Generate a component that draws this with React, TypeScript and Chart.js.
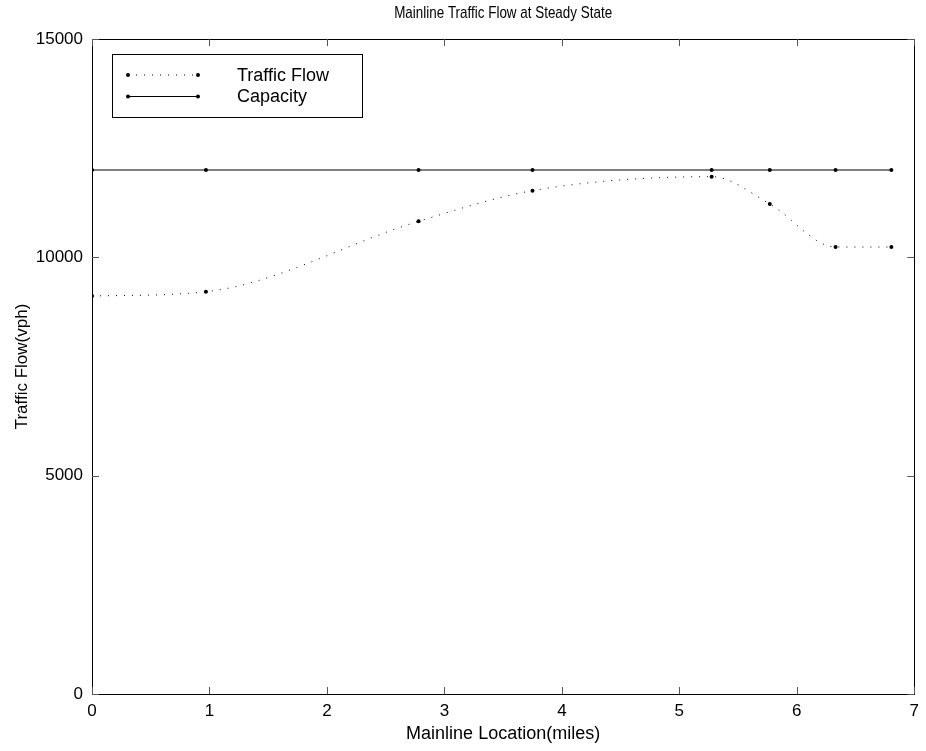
import React, { useEffect, useRef } from "react";
import { Chart, registerables } from "chart.js";

Chart.register(...registerables);

const chartTitle = "Mainline Traffic Flow at Steady State";
const xAxisTitle = "Mainline Location(miles)";
const yAxisTitle = "Traffic Flow(vph)";
const locations = [0, 0.97, 2.78, 3.75, 5.275, 5.77, 6.33, 6.805];
const trafficFlow = [9115, 9213, 10825, 11527, 11847, 11221, 10237, 10237];
const capacity = [12000, 12000, 12000, 12000, 12000, 12000, 12000, 12000];
const xTickValues = [0, 1, 2, 3, 4, 5, 6, 7];
const yTickValues = [0, 5000, 10000, 15000];
const seriesLabels = ["Traffic Flow", "Capacity"];

const FONT = "'Liberation Sans', Arial, Helvetica, sans-serif";

const framePlugin = {
  id: "frame",
  afterDraw(chart: any) {
    const { ctx, chartArea } = chart;
    const { left, right, top, bottom } = chartArea;
    const xs = chart.scales.x;
    const ys = chart.scales.y;
    ctx.save();
    // frame
    ctx.strokeStyle = "#000";
    ctx.lineWidth = 1;
    ctx.strokeRect(Math.round(left) + 0.5, Math.round(top) + 0.5, Math.round(right - left), Math.round(bottom - top));
    // inner ticks
    const tl = 7;
    ctx.strokeStyle = "#555";
    ctx.beginPath();
    xTickValues.forEach((v) => {
      const px = Math.round(xs.getPixelForValue(v)) + 0.5;
      ctx.moveTo(px, bottom);
      ctx.lineTo(px, bottom - tl);
      ctx.moveTo(px, top);
      ctx.lineTo(px, top + tl);
    });
    yTickValues.forEach((v) => {
      const py = Math.round(ys.getPixelForValue(v)) + 0.5;
      ctx.moveTo(left, py);
      ctx.lineTo(left + tl, py);
      ctx.moveTo(right, py);
      ctx.lineTo(right - tl, py);
    });
    ctx.stroke();

    // title (condensed)
    ctx.save();
    ctx.fillStyle = "#000";
    ctx.font = `17px ${FONT}`;
    ctx.textAlign = "center";
    ctx.textBaseline = "middle";
    ctx.translate((left + right) / 2, 13);
    ctx.scale(0.79, 1);
    ctx.fillText(chartTitle, 0, 0);
    ctx.restore();

    // legend
    const bx = 112, by = 54, bw = 250, bh = 63;
    ctx.fillStyle = "#fff";
    ctx.fillRect(bx, by, bw, bh);
    ctx.strokeStyle = "#000";
    ctx.lineWidth = 1;
    ctx.strokeRect(bx + 0.5, by + 0.5, bw, bh);
    const rows = [75, 96.5];
    const x1 = 128, x2 = 198;
    chart.data.datasets.forEach((ds: any, i: number) => {
      const y = rows[i];
      ctx.strokeStyle = "#000";
      ctx.lineWidth = 1;
      ctx.setLineDash(ds.borderDash || []);
      ctx.beginPath();
      ctx.moveTo(x1, y);
      ctx.lineTo(x2, y);
      ctx.stroke();
      ctx.setLineDash([]);
      ctx.fillStyle = "#000";
      [x1, x2].forEach((px) => {
        ctx.beginPath();
        ctx.arc(px, y, 2, 0, Math.PI * 2);
        ctx.fill();
      });
      ctx.textAlign = "left";
      ctx.textBaseline = "middle";
      ctx.font = `18px ${FONT}`;
      ctx.fillText(ds.label, 237, y + 1);
    });
    ctx.restore();
  },
};

export default function App() {
  const ref = useRef<HTMLCanvasElement | null>(null);
  useEffect(() => {
    if (!ref.current) return;
    const chart = new Chart(ref.current, {
      type: "line",
      data: {
        datasets: [
          {
            label: seriesLabels[0],
            data: locations.map((x, i) => ({ x, y: trafficFlow[i] })),
            borderColor: "#000",
            backgroundColor: "#000",
            borderWidth: 1,
            borderDash: [1, 7],
            cubicInterpolationMode: "monotone",
            pointRadius: 2,
            pointBorderWidth: 0,
            pointBackgroundColor: "#000",
          },
          {
            label: seriesLabels[1],
            data: locations.map((x, i) => ({ x, y: capacity[i] })),
            borderColor: "#555",
            backgroundColor: "#000",
            borderWidth: 1.3,
            pointRadius: 2,
            pointBorderWidth: 0,
            pointBackgroundColor: "#000",
          },
        ],
      },
      options: {
        responsive: false,
        animation: false,
        layout: { padding: { top: 39, right: 7, left: 0, bottom: 0 } },
        plugins: { legend: { display: false }, tooltip: { enabled: false }, title: { display: false } },
        scales: {
          x: {
            type: "linear",
            min: 0,
            max: 7,
            afterBuildTicks: (s: any) => {
              s.ticks = xTickValues.map((v) => ({ value: v }));
            },
            afterFit: (s: any) => {
              s.height = 57;
            },
            grid: { display: false, drawTicks: false },
            border: { display: false },
            ticks: { color: "#000", font: { family: FONT, size: 17 }, padding: 7, maxRotation: 0 },
            title: { display: true, text: xAxisTitle, color: "#000", font: { family: FONT, size: 18 }, padding: { top: 0, bottom: 6 } },
          },
          y: {
            min: 0,
            max: 15000,
            afterBuildTicks: (s: any) => {
              s.ticks = yTickValues.map((v) => ({ value: v }));
            },
            afterFit: (s: any) => {
              s.width = 92;
            },
            grid: { display: false, drawTicks: false },
            border: { display: false },
            ticks: { color: "#000", font: { family: FONT, size: 17 }, padding: 9, callback: (v: any) => String(v) },
            title: { display: true, text: yAxisTitle, color: "#000", font: { family: FONT, size: 17 }, padding: { top: 12, bottom: 0 } },
          },
        },
      },
      plugins: [framePlugin],
    } as any);
    return () => chart.destroy();
  }, []);
  return (
    <div style={{ position: "absolute", left: 0, top: 0, width: 926, height: 751, background: "#fff" }}>
      <canvas ref={ref} width={926} height={751} style={{ display: "block" }} />
    </div>
  );
}
